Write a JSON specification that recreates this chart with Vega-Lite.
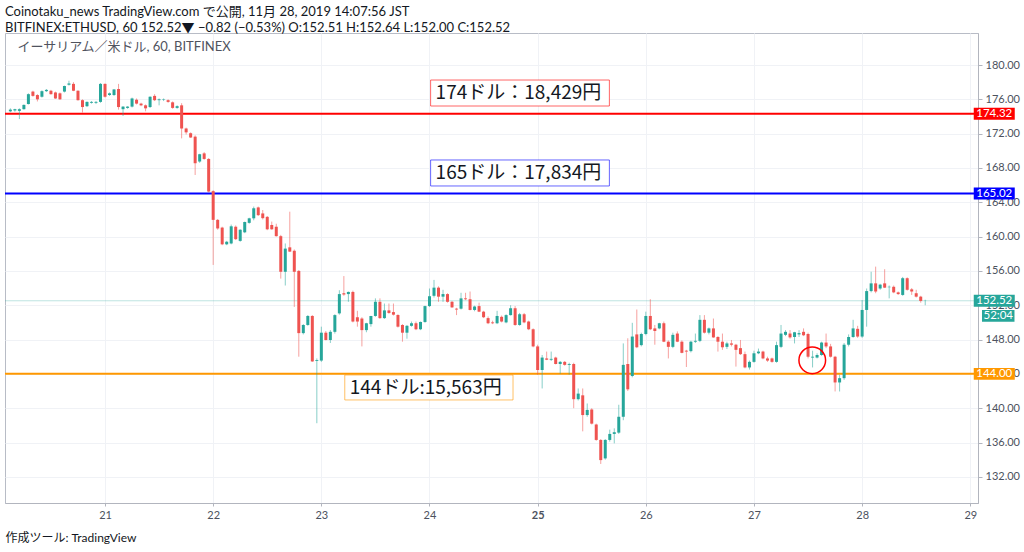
{
  "$schema": "https://vega.github.io/schema/vega-lite/v6.json",
  "width": 973,
  "height": 470,
  "autosize": {"type": "none"},
  "padding": {"left": 5, "top": 33, "right": 46, "bottom": 49},
  "background": "white",
  "title": {
    "text": "Coinotaku_news TradingView.com で公開, 11月 28, 2019 14:07:56 JST",
    "subtitle": "BITFINEX:ETHUSD, 60 152.52▼ −0.82 (−0.53%) O:152.51 H:152.64 L:152.00 C:152.52",
    "anchor": "start",
    "frame": "group",
    "font": "Lato, Noto Sans CJK JP",
    "subtitleFont": "Lato, Noto Sans CJK JP",
    "fontSize": 13,
    "subtitleFontSize": 13,
    "fontWeight": "normal",
    "color": "#131722",
    "subtitleColor": "#131722",
    "offset": -2,
    "subtitlePadding": 3
  },
  "datasets": {
    "candles": [
      {"t":"2019-11-20T03:00","o":174.60,"h":174.95,"l":174.50,"c":174.80},
      {"t":"2019-11-20T04:00","o":174.70,"h":174.90,"l":174.55,"c":174.85},
      {"t":"2019-11-20T05:00","o":174.65,"h":174.95,"l":173.70,"c":174.85},
      {"t":"2019-11-20T06:00","o":174.85,"h":175.40,"l":174.80,"c":175.35},
      {"t":"2019-11-20T07:00","o":175.45,"h":176.70,"l":175.40,"c":176.60},
      {"t":"2019-11-20T08:00","o":176.90,"h":177.00,"l":176.30,"c":176.40},
      {"t":"2019-11-20T09:00","o":176.50,"h":176.60,"l":175.75,"c":176.00},
      {"t":"2019-11-20T10:00","o":176.30,"h":177.05,"l":176.20,"c":176.95},
      {"t":"2019-11-20T11:00","o":176.95,"h":177.20,"l":176.85,"c":177.10},
      {"t":"2019-11-20T12:00","o":177.00,"h":177.10,"l":176.55,"c":176.60},
      {"t":"2019-11-20T13:00","o":176.80,"h":176.90,"l":176.05,"c":176.10},
      {"t":"2019-11-20T14:00","o":176.70,"h":176.80,"l":175.95,"c":176.00},
      {"t":"2019-11-20T15:00","o":176.90,"h":177.60,"l":176.80,"c":177.55},
      {"t":"2019-11-20T16:00","o":177.70,"h":178.17,"l":177.60,"c":177.85},
      {"t":"2019-11-20T17:00","o":177.80,"h":178.00,"l":176.95,"c":177.00},
      {"t":"2019-11-20T18:00","o":177.00,"h":177.05,"l":175.85,"c":175.90},
      {"t":"2019-11-20T19:00","o":175.90,"h":176.00,"l":174.45,"c":175.10},
      {"t":"2019-11-20T20:00","o":175.20,"h":175.75,"l":175.10,"c":175.70},
      {"t":"2019-11-20T21:00","o":175.60,"h":175.80,"l":175.50,"c":175.70},
      {"t":"2019-11-20T22:00","o":175.60,"h":175.80,"l":175.45,"c":175.70},
      {"t":"2019-11-20T23:00","o":175.70,"h":177.90,"l":175.60,"c":177.80},
      {"t":"2019-11-21T00:00","o":177.80,"h":177.85,"l":176.20,"c":176.30},
      {"t":"2019-11-21T01:00","o":176.50,"h":176.80,"l":176.40,"c":176.70},
      {"t":"2019-11-21T02:00","o":176.50,"h":177.20,"l":176.40,"c":177.15},
      {"t":"2019-11-21T03:00","o":177.20,"h":177.80,"l":174.80,"c":175.10},
      {"t":"2019-11-21T04:00","o":174.85,"h":175.20,"l":174.06,"c":175.15},
      {"t":"2019-11-21T05:00","o":175.00,"h":175.20,"l":174.90,"c":175.15},
      {"t":"2019-11-21T06:00","o":175.15,"h":176.20,"l":175.05,"c":176.10},
      {"t":"2019-11-21T07:00","o":175.95,"h":176.10,"l":175.40,"c":175.50},
      {"t":"2019-11-21T08:00","o":175.50,"h":175.60,"l":175.20,"c":175.30},
      {"t":"2019-11-21T09:00","o":175.30,"h":175.40,"l":174.60,"c":174.95},
      {"t":"2019-11-21T10:00","o":175.10,"h":176.35,"l":175.00,"c":176.30},
      {"t":"2019-11-21T11:00","o":176.40,"h":176.60,"l":175.80,"c":175.90},
      {"t":"2019-11-21T12:00","o":175.90,"h":176.10,"l":175.30,"c":176.00},
      {"t":"2019-11-21T13:00","o":175.95,"h":176.10,"l":175.80,"c":176.00},
      {"t":"2019-11-21T14:00","o":175.90,"h":176.00,"l":175.60,"c":175.70},
      {"t":"2019-11-21T15:00","o":175.65,"h":175.75,"l":174.90,"c":175.00},
      {"t":"2019-11-21T16:00","o":175.00,"h":175.30,"l":174.90,"c":175.20},
      {"t":"2019-11-21T17:00","o":175.30,"h":175.55,"l":171.45,"c":172.60},
      {"t":"2019-11-21T18:00","o":172.60,"h":172.70,"l":171.90,"c":172.15},
      {"t":"2019-11-21T19:00","o":172.05,"h":172.15,"l":171.50,"c":171.55},
      {"t":"2019-11-21T20:00","o":171.65,"h":171.80,"l":167.18,"c":168.55},
      {"t":"2019-11-21T21:00","o":168.75,"h":169.65,"l":168.60,"c":169.60},
      {"t":"2019-11-21T22:00","o":169.70,"h":169.85,"l":168.95,"c":169.05},
      {"t":"2019-11-21T23:00","o":169.05,"h":169.15,"l":165.15,"c":165.25},
      {"t":"2019-11-22T00:00","o":165.30,"h":165.40,"l":156.70,"c":161.95},
      {"t":"2019-11-22T01:00","o":161.95,"h":162.05,"l":160.80,"c":160.95},
      {"t":"2019-11-22T02:00","o":161.05,"h":161.15,"l":159.00,"c":159.10},
      {"t":"2019-11-22T03:00","o":159.10,"h":159.50,"l":159.00,"c":159.40},
      {"t":"2019-11-22T04:00","o":159.20,"h":161.40,"l":159.10,"c":161.20},
      {"t":"2019-11-22T05:00","o":161.15,"h":161.30,"l":159.60,"c":159.70},
      {"t":"2019-11-22T06:00","o":159.50,"h":160.85,"l":159.40,"c":160.80},
      {"t":"2019-11-22T07:00","o":160.50,"h":161.75,"l":160.40,"c":161.70},
      {"t":"2019-11-22T08:00","o":161.60,"h":162.20,"l":161.50,"c":162.13},
      {"t":"2019-11-22T09:00","o":162.13,"h":163.50,"l":161.90,"c":163.30},
      {"t":"2019-11-22T10:00","o":163.40,"h":163.50,"l":162.40,"c":162.50},
      {"t":"2019-11-22T11:00","o":162.70,"h":163.10,"l":162.00,"c":162.15},
      {"t":"2019-11-22T12:00","o":162.30,"h":162.40,"l":160.75,"c":160.85},
      {"t":"2019-11-22T13:00","o":161.35,"h":161.75,"l":160.80,"c":160.85},
      {"t":"2019-11-22T14:00","o":161.15,"h":161.50,"l":160.00,"c":160.05},
      {"t":"2019-11-22T15:00","o":160.05,"h":160.20,"l":155.10,"c":155.90},
      {"t":"2019-11-22T16:00","o":155.90,"h":159.20,"l":154.30,"c":158.60},
      {"t":"2019-11-22T17:00","o":158.75,"h":162.90,"l":158.20,"c":158.25},
      {"t":"2019-11-22T18:00","o":158.35,"h":158.50,"l":151.80,"c":155.90},
      {"t":"2019-11-22T19:00","o":156.00,"h":156.10,"l":146.00,"c":148.75},
      {"t":"2019-11-22T20:00","o":148.75,"h":149.80,"l":148.60,"c":149.70},
      {"t":"2019-11-22T21:00","o":149.70,"h":150.85,"l":149.60,"c":150.75},
      {"t":"2019-11-22T22:00","o":150.75,"h":150.85,"l":145.40,"c":145.45},
      {"t":"2019-11-22T23:00","o":145.50,"h":145.80,"l":138.25,"c":145.60},
      {"t":"2019-11-23T00:00","o":145.55,"h":149.50,"l":145.40,"c":148.80},
      {"t":"2019-11-23T01:00","o":148.80,"h":149.00,"l":147.90,"c":147.95},
      {"t":"2019-11-23T02:00","o":147.95,"h":149.10,"l":147.60,"c":148.90},
      {"t":"2019-11-23T03:00","o":148.90,"h":150.95,"l":148.70,"c":150.85},
      {"t":"2019-11-23T04:00","o":151.05,"h":153.75,"l":150.90,"c":153.30},
      {"t":"2019-11-23T05:00","o":153.40,"h":155.40,"l":153.10,"c":153.25},
      {"t":"2019-11-23T06:00","o":153.30,"h":153.60,"l":152.40,"c":153.55},
      {"t":"2019-11-23T07:00","o":153.55,"h":153.70,"l":150.00,"c":150.10},
      {"t":"2019-11-23T08:00","o":150.60,"h":151.35,"l":149.50,"c":150.10},
      {"t":"2019-11-23T09:00","o":150.45,"h":150.60,"l":147.20,"c":149.10},
      {"t":"2019-11-23T10:00","o":149.10,"h":149.95,"l":148.85,"c":149.90},
      {"t":"2019-11-23T11:00","o":149.80,"h":150.75,"l":149.50,"c":150.75},
      {"t":"2019-11-23T12:00","o":150.75,"h":152.80,"l":150.65,"c":152.40},
      {"t":"2019-11-23T13:00","o":152.40,"h":152.80,"l":150.40,"c":150.50},
      {"t":"2019-11-23T14:00","o":150.50,"h":152.20,"l":150.40,"c":151.40},
      {"t":"2019-11-23T15:00","o":151.40,"h":152.20,"l":151.00,"c":151.10},
      {"t":"2019-11-23T16:00","o":151.20,"h":152.20,"l":150.80,"c":150.90},
      {"t":"2019-11-23T17:00","o":150.86,"h":150.95,"l":149.40,"c":149.50},
      {"t":"2019-11-23T18:00","o":149.70,"h":149.80,"l":147.75,"c":148.80},
      {"t":"2019-11-23T19:00","o":148.80,"h":149.70,"l":148.10,"c":149.60},
      {"t":"2019-11-23T20:00","o":149.60,"h":150.10,"l":149.50,"c":149.90},
      {"t":"2019-11-23T21:00","o":149.90,"h":150.10,"l":149.10,"c":149.20},
      {"t":"2019-11-23T22:00","o":149.20,"h":150.10,"l":149.10,"c":150.05},
      {"t":"2019-11-23T23:00","o":150.05,"h":151.95,"l":149.95,"c":151.90},
      {"t":"2019-11-24T00:00","o":151.90,"h":153.95,"l":151.80,"c":153.05},
      {"t":"2019-11-24T01:00","o":153.10,"h":154.95,"l":152.90,"c":154.05},
      {"t":"2019-11-24T02:00","o":154.05,"h":154.20,"l":152.40,"c":153.00},
      {"t":"2019-11-24T03:00","o":153.00,"h":153.80,"l":152.40,"c":153.30},
      {"t":"2019-11-24T04:00","o":153.30,"h":153.40,"l":152.30,"c":152.40},
      {"t":"2019-11-24T05:00","o":152.40,"h":152.50,"l":151.70,"c":151.75},
      {"t":"2019-11-24T06:00","o":151.60,"h":151.70,"l":150.85,"c":151.50},
      {"t":"2019-11-24T07:00","o":151.60,"h":153.45,"l":151.50,"c":152.80},
      {"t":"2019-11-24T08:00","o":152.80,"h":153.45,"l":152.60,"c":152.70},
      {"t":"2019-11-24T09:00","o":152.70,"h":153.60,"l":151.40,"c":151.45},
      {"t":"2019-11-24T10:00","o":151.45,"h":151.95,"l":151.30,"c":151.85},
      {"t":"2019-11-24T11:00","o":151.90,"h":152.30,"l":151.20,"c":151.25},
      {"t":"2019-11-24T12:00","o":151.25,"h":151.35,"l":150.50,"c":150.60},
      {"t":"2019-11-24T13:00","o":150.50,"h":150.70,"l":149.80,"c":149.90},
      {"t":"2019-11-24T14:00","o":150.00,"h":150.20,"l":149.80,"c":149.90},
      {"t":"2019-11-24T15:00","o":149.90,"h":151.35,"l":149.80,"c":150.75},
      {"t":"2019-11-24T16:00","o":150.65,"h":150.80,"l":150.00,"c":150.10},
      {"t":"2019-11-24T17:00","o":150.00,"h":150.95,"l":149.90,"c":150.85},
      {"t":"2019-11-24T18:00","o":150.85,"h":152.00,"l":150.80,"c":151.65},
      {"t":"2019-11-24T19:00","o":151.65,"h":151.90,"l":149.60,"c":149.70},
      {"t":"2019-11-24T20:00","o":149.70,"h":151.10,"l":149.60,"c":150.95},
      {"t":"2019-11-24T21:00","o":150.95,"h":151.10,"l":149.90,"c":150.00},
      {"t":"2019-11-24T22:00","o":150.10,"h":150.20,"l":149.10,"c":149.20},
      {"t":"2019-11-24T23:00","o":149.20,"h":149.30,"l":147.10,"c":147.20},
      {"t":"2019-11-25T00:00","o":147.20,"h":147.40,"l":143.90,"c":144.45},
      {"t":"2019-11-25T01:00","o":144.45,"h":146.20,"l":142.30,"c":145.90},
      {"t":"2019-11-25T02:00","o":145.80,"h":146.60,"l":145.60,"c":145.65},
      {"t":"2019-11-25T03:00","o":145.65,"h":146.60,"l":145.50,"c":145.75},
      {"t":"2019-11-25T04:00","o":145.90,"h":146.00,"l":145.10,"c":145.15},
      {"t":"2019-11-25T05:00","o":145.15,"h":145.50,"l":144.00,"c":145.40},
      {"t":"2019-11-25T06:00","o":145.40,"h":145.50,"l":144.95,"c":145.05},
      {"t":"2019-11-25T07:00","o":145.05,"h":145.30,"l":143.90,"c":145.15},
      {"t":"2019-11-25T08:00","o":145.15,"h":145.30,"l":140.00,"c":141.05},
      {"t":"2019-11-25T09:00","o":141.05,"h":142.30,"l":140.90,"c":141.70},
      {"t":"2019-11-25T10:00","o":141.50,"h":142.30,"l":137.30,"c":139.20},
      {"t":"2019-11-25T11:00","o":139.20,"h":140.55,"l":139.00,"c":139.80},
      {"t":"2019-11-25T12:00","o":139.85,"h":140.00,"l":138.10,"c":138.20},
      {"t":"2019-11-25T13:00","o":138.10,"h":138.20,"l":136.20,"c":136.30},
      {"t":"2019-11-25T14:00","o":136.30,"h":136.40,"l":133.50,"c":133.95},
      {"t":"2019-11-25T15:00","o":134.15,"h":136.40,"l":134.00,"c":136.30},
      {"t":"2019-11-25T16:00","o":136.30,"h":137.50,"l":136.10,"c":137.00},
      {"t":"2019-11-25T17:00","o":137.00,"h":137.65,"l":135.90,"c":137.20},
      {"t":"2019-11-25T18:00","o":137.15,"h":140.40,"l":137.00,"c":139.00},
      {"t":"2019-11-25T19:00","o":139.00,"h":147.55,"l":138.60,"c":145.05},
      {"t":"2019-11-25T20:00","o":145.15,"h":148.15,"l":142.00,"c":142.20},
      {"t":"2019-11-25T21:00","o":143.75,"h":149.95,"l":143.60,"c":148.35},
      {"t":"2019-11-25T22:00","o":148.60,"h":151.50,"l":147.00,"c":147.10},
      {"t":"2019-11-25T23:00","o":147.35,"h":148.80,"l":147.20,"c":148.65},
      {"t":"2019-11-26T00:00","o":148.65,"h":151.25,"l":148.50,"c":150.75},
      {"t":"2019-11-26T01:00","o":150.75,"h":152.70,"l":149.10,"c":149.20},
      {"t":"2019-11-26T02:00","o":149.30,"h":149.70,"l":147.40,"c":149.00},
      {"t":"2019-11-26T03:00","o":149.30,"h":149.95,"l":149.20,"c":149.90},
      {"t":"2019-11-26T04:00","o":149.90,"h":150.10,"l":147.70,"c":147.75},
      {"t":"2019-11-26T05:00","o":147.75,"h":147.90,"l":145.80,"c":147.15},
      {"t":"2019-11-26T06:00","o":147.15,"h":148.80,"l":147.00,"c":148.55},
      {"t":"2019-11-26T07:00","o":148.70,"h":148.95,"l":147.70,"c":147.75},
      {"t":"2019-11-26T08:00","o":147.75,"h":147.90,"l":146.40,"c":146.45},
      {"t":"2019-11-26T09:00","o":146.70,"h":146.80,"l":144.80,"c":146.60},
      {"t":"2019-11-26T10:00","o":146.65,"h":147.85,"l":146.50,"c":147.75},
      {"t":"2019-11-26T11:00","o":147.75,"h":148.70,"l":147.60,"c":147.85},
      {"t":"2019-11-26T12:00","o":147.85,"h":150.85,"l":147.70,"c":150.30},
      {"t":"2019-11-26T13:00","o":150.30,"h":150.85,"l":148.70,"c":148.80},
      {"t":"2019-11-26T14:00","o":148.80,"h":149.40,"l":148.60,"c":149.30},
      {"t":"2019-11-26T15:00","o":149.30,"h":150.45,"l":148.20,"c":148.25},
      {"t":"2019-11-26T16:00","o":148.30,"h":148.40,"l":146.60,"c":147.75},
      {"t":"2019-11-26T17:00","o":147.75,"h":148.70,"l":146.80,"c":147.10},
      {"t":"2019-11-26T18:00","o":147.15,"h":147.75,"l":146.90,"c":147.55},
      {"t":"2019-11-26T19:00","o":147.55,"h":147.95,"l":147.20,"c":147.40},
      {"t":"2019-11-26T20:00","o":147.40,"h":147.50,"l":144.85,"c":146.80},
      {"t":"2019-11-26T21:00","o":147.00,"h":147.95,"l":146.20,"c":146.30},
      {"t":"2019-11-26T22:00","o":146.30,"h":146.60,"l":144.65,"c":144.75},
      {"t":"2019-11-26T23:00","o":144.75,"h":145.55,"l":144.50,"c":145.40},
      {"t":"2019-11-27T00:00","o":145.40,"h":146.70,"l":145.30,"c":146.40},
      {"t":"2019-11-27T01:00","o":146.40,"h":146.95,"l":146.30,"c":146.60},
      {"t":"2019-11-27T02:00","o":146.60,"h":146.70,"l":145.70,"c":145.80},
      {"t":"2019-11-27T03:00","o":145.80,"h":146.00,"l":145.40,"c":145.55},
      {"t":"2019-11-27T04:00","o":145.80,"h":145.90,"l":145.30,"c":145.40},
      {"t":"2019-11-27T05:00","o":145.40,"h":147.75,"l":145.30,"c":147.35},
      {"t":"2019-11-27T06:00","o":147.15,"h":149.70,"l":147.00,"c":148.70},
      {"t":"2019-11-27T07:00","o":148.55,"h":149.10,"l":148.40,"c":148.90},
      {"t":"2019-11-27T08:00","o":148.70,"h":149.10,"l":148.10,"c":148.25},
      {"t":"2019-11-27T09:00","o":148.30,"h":148.90,"l":147.55,"c":148.85},
      {"t":"2019-11-27T10:00","o":148.60,"h":149.10,"l":148.30,"c":148.75},
      {"t":"2019-11-27T11:00","o":148.90,"h":149.30,"l":148.40,"c":148.50},
      {"t":"2019-11-27T12:00","o":148.65,"h":148.80,"l":145.80,"c":146.00},
      {"t":"2019-11-27T13:00","o":145.90,"h":146.70,"l":144.75,"c":146.00},
      {"t":"2019-11-27T14:00","o":145.90,"h":146.40,"l":145.80,"c":146.20},
      {"t":"2019-11-27T15:00","o":146.20,"h":147.75,"l":146.10,"c":147.65},
      {"t":"2019-11-27T16:00","o":147.65,"h":148.70,"l":147.00,"c":147.20},
      {"t":"2019-11-27T17:00","o":147.20,"h":147.50,"l":145.90,"c":146.00},
      {"t":"2019-11-27T18:00","o":146.00,"h":146.10,"l":141.95,"c":143.00},
      {"t":"2019-11-27T19:00","o":143.00,"h":143.90,"l":141.95,"c":143.50},
      {"t":"2019-11-27T20:00","o":143.50,"h":147.60,"l":143.30,"c":147.40},
      {"t":"2019-11-27T21:00","o":147.40,"h":148.60,"l":147.20,"c":148.30},
      {"t":"2019-11-27T22:00","o":148.30,"h":150.30,"l":148.20,"c":149.30},
      {"t":"2019-11-27T23:00","o":149.25,"h":149.60,"l":148.20,"c":148.35},
      {"t":"2019-11-28T00:00","o":148.35,"h":152.60,"l":148.20,"c":151.45},
      {"t":"2019-11-28T01:00","o":151.45,"h":153.95,"l":149.50,"c":153.65},
      {"t":"2019-11-28T02:00","o":153.65,"h":155.90,"l":153.50,"c":154.55},
      {"t":"2019-11-28T03:00","o":154.55,"h":156.50,"l":153.40,"c":153.60},
      {"t":"2019-11-28T04:00","o":153.95,"h":154.50,"l":153.80,"c":154.40},
      {"t":"2019-11-28T05:00","o":154.55,"h":156.20,"l":154.00,"c":154.05},
      {"t":"2019-11-28T06:00","o":154.10,"h":154.30,"l":152.80,"c":154.15},
      {"t":"2019-11-28T07:00","o":154.15,"h":154.30,"l":153.40,"c":153.50},
      {"t":"2019-11-28T08:00","o":153.50,"h":153.60,"l":153.20,"c":153.30},
      {"t":"2019-11-28T09:00","o":153.20,"h":155.30,"l":153.10,"c":155.15},
      {"t":"2019-11-28T10:00","o":155.15,"h":155.25,"l":153.70,"c":153.80},
      {"t":"2019-11-28T11:00","o":153.85,"h":154.00,"l":153.20,"c":153.60},
      {"t":"2019-11-28T12:00","o":153.40,"h":153.80,"l":152.90,"c":153.00},
      {"t":"2019-11-28T13:00","o":153.00,"h":153.10,"l":152.30,"c":152.50},
      {"t":"2019-11-28T14:00","o":152.51,"h":152.64,"l":152.00,"c":152.52}
    ],
    "lines": [
      {"line": "174.32", "p": 174.32},
      {"line": "165.02", "p": 165.02},
      {"line": "152.52", "p": 152.52},
      {"line": "144.00", "p": 144.00}
    ],
    "notes": [
      {"label": "174ドル：18,429円", "line": "174.32", "t": "2019-11-24T00:15", "t2": "2019-11-25T15:55", "top": 178.25, "bottom": 175.22},
      {"label": "165ドル：17,834円", "line": "165.02", "t": "2019-11-24T00:15", "t2": "2019-11-25T15:55", "top": 168.93, "bottom": 165.90},
      {"label": "144ドル:15,563円", "line": "144.00", "t": "2019-11-23T05:12", "t2": "2019-11-24T18:32", "top": 143.87, "bottom": 140.96}
    ]
  },
  "layer": [
    {
      "data": {"name": "lines"},
      "mark": {"type": "rule"},
      "encoding": {
        "y": {
          "field": "p", "type": "quantitative", "title": null,
          "scale": {"domain": [128.95, 183.73], "nice": false, "zero": false},
          "axis": {
            "orient": "right",
            "values": [132, 136, 140, 144, 148, 152, 156, 160, 164, 168, 172, 176, 180],
            "tickCount": 30,
            "format": ".2f",
            "labelOverlap": false,
            "grid": true,
            "gridColor": "#f0f2f6",
            "domainColor": "#b2b5be",
            "tickColor": "#b2b5be",
            "tickSize": 4,
            "labelPadding": 3,
            "labelFontSize": 11,
            "labelColor": "#4c525e",
            "labelFont": "Lato"
          }
        },
        "color": {
          "field": "line", "type": "nominal", "legend": null,
          "scale": {"domain": ["174.32", "165.02", "152.52", "144.00"], "range": ["#ff0000", "#0000ff", "#26a69a", "#ff9800"]}
        },
        "strokeWidth": {"condition": {"test": "datum.line === '152.52'", "value": 1}, "value": 2},
        "opacity": {"condition": {"test": "datum.line === '152.52'", "value": 0.3}, "value": 1}
      }
    },
    {
      "data": {"name": "candles"},
      "mark": {"type": "rule", "strokeWidth": 1, "opacity": 0.55},
      "encoding": {
        "x": {
          "field": "t", "type": "temporal", "title": "作成ツール: TradingView",
          "scale": {"domain": [
            {"year": 2019, "month": 11, "date": 20, "hours": 2, "minutes": 55},
            {"year": 2019, "month": 11, "date": 29, "hours": 0, "minutes": 36}
          ]},
          "axis": {
            "orient": "bottom",
            "format": "%-d",
            "tickCount": {"interval": "day", "step": 1},
            "grid": true,
            "gridColor": "#f0f2f6",
            "domainColor": "#b2b5be",
            "tickColor": "#b2b5be",
            "tickSize": 3,
            "labelPadding": 3,
            "labelFontSize": 11,
            "labelColor": "#4c525e",
            "labelFont": "Lato",
            "labelFlush": false,
            "labelOverlap": false,
            "labelFontWeight": {"condition": {"test": "date(datum.value) == 25", "value": "bold"}, "value": "normal"},
            "titleAnchor": "start",
            "titlePadding": 12,
            "titleFont": "Lato, Noto Sans CJK JP",
            "titleFontSize": 12,
            "titleFontWeight": "normal",
            "titleColor": "#131722"
          }
        },
        "y": {"field": "l", "type": "quantitative", "title": null},
        "y2": {"field": "h"},
        "color": {"condition": {"test": "datum.c >= datum.o", "value": "#26a69a"}, "value": "#ef5350"}
      }
    },
    {
      "data": {"name": "candles"},
      "mark": {"type": "bar", "size": 3},
      "encoding": {
        "x": {"field": "t", "type": "temporal", "title": "作成ツール: TradingView"},
        "y": {"field": "o", "type": "quantitative", "title": null},
        "y2": {"field": "c"},
        "color": {"condition": {"test": "datum.c >= datum.o", "value": "#26a69a"}, "value": "#ef5350"}
      }
    },
    {
      "data": {"name": "notes"},
      "mark": {"type": "rect", "fill": "white", "strokeWidth": 1, "strokeOpacity": 0.6},
      "encoding": {
        "x": {"field": "t", "type": "temporal", "title": "作成ツール: TradingView"},
        "x2": {"field": "t2"},
        "y": {"field": "top", "type": "quantitative", "title": null},
        "y2": {"field": "bottom"},
        "stroke": {
          "field": "line", "type": "nominal", "legend": null,
          "scale": {"domain": ["174.32", "165.02", "152.52", "144.00"], "range": ["#ff0000", "#0000ff", "#26a69a", "#ff9800"]}
        }
      }
    },
    {
      "data": {"name": "notes"},
      "mark": {"type": "text", "align": "left", "baseline": "middle", "dx": 5, "dy": 13, "fontSize": 19, "font": "Noto Sans CJK JP", "color": "#131722"},
      "encoding": {
        "x": {"field": "t", "type": "temporal", "title": "作成ツール: TradingView"},
        "y": {"field": "top", "type": "quantitative", "title": null},
        "text": {"field": "label"}
      }
    },
    {
      "data": {"values": [{"t": "2019-11-27T12:56", "p": 145.58}]},
      "mark": {"type": "point", "shape": "circle", "size": 710, "filled": false, "stroke": "#ff0000", "strokeWidth": 1.5, "opacity": 1},
      "encoding": {
        "x": {"field": "t", "type": "temporal", "title": "作成ツール: TradingView"},
        "y": {"field": "p", "type": "quantitative", "title": null}
      }
    },
    {
      "data": {"values": [{"label": "イーサリアム／米ドル, 60, BITFINEX", "t": "2019-11-20T04:36", "p": 182.1}]},
      "mark": {"type": "text", "align": "left", "baseline": "middle", "fontSize": 13, "font": "Lato, Noto Sans CJK JP", "color": "#50535e"},
      "encoding": {
        "x": {"field": "t", "type": "temporal", "title": "作成ツール: TradingView"},
        "y": {"field": "p", "type": "quantitative", "title": null},
        "text": {"field": "label"}
      }
    },
    {
      "data": {"name": "lines"},
      "mark": {"type": "point", "shape": "M-1,-0.29L1,-0.29L1,0.29L-1,0.29Z", "size": 1681, "filled": true, "opacity": 1},
      "encoding": {
        "x": {"datum": {"year": 2019, "month": 11, "date": 29, "hours": 5, "minutes": 19}, "type": "temporal"},
        "y": {"field": "p", "type": "quantitative", "title": null},
        "color": {"field": "line", "type": "nominal", "legend": null}
      }
    },
    {
      "data": {"name": "lines"},
      "mark": {"type": "text", "align": "center", "baseline": "middle", "fontSize": 11.5, "font": "Lato", "color": "white"},
      "encoding": {
        "x": {"datum": {"year": 2019, "month": 11, "date": 29, "hours": 5, "minutes": 19}, "type": "temporal"},
        "y": {"field": "p", "type": "quantitative", "title": null},
        "text": {"field": "line"}
      }
    },
    {
      "data": {"values": [{"label": "52:04", "p": 150.75}]},
      "mark": {"type": "point", "shape": "M-1,-0.36L1,-0.36L1,0.36L-1,0.36Z", "size": 1056, "filled": true, "opacity": 1, "color": "#26a69a"},
      "encoding": {
        "x": {"datum": {"year": 2019, "month": 11, "date": 29, "hours": 6, "minutes": 12}, "type": "temporal"},
        "y": {"field": "p", "type": "quantitative", "title": null}
      }
    },
    {
      "data": {"values": [{"label": "52:04", "p": 150.75}]},
      "mark": {"type": "text", "align": "center", "baseline": "middle", "fontSize": 11.5, "font": "Lato", "color": "white"},
      "encoding": {
        "x": {"datum": {"year": 2019, "month": 11, "date": 29, "hours": 6, "minutes": 12}, "type": "temporal"},
        "y": {"field": "p", "type": "quantitative", "title": null},
        "text": {"field": "label"}
      }
    }
  ],
  "config": {
    "view": {"stroke": "#b8bcc6", "strokeWidth": 1},
    "axis": {"domainWidth": 1}
  }
}
